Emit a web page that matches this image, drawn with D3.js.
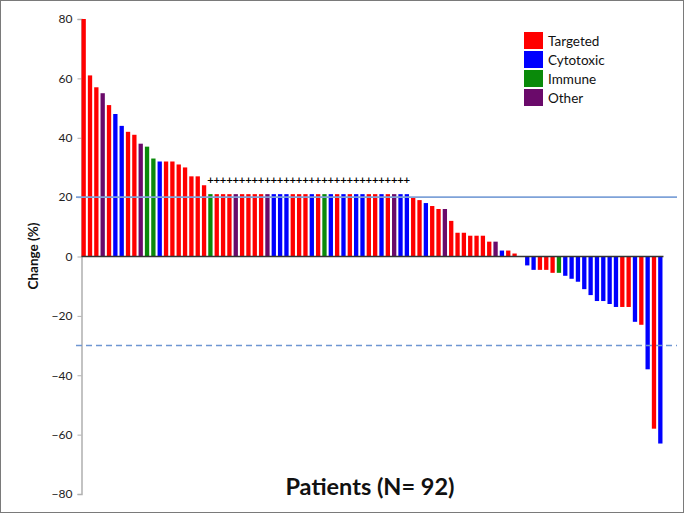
<!DOCTYPE html>
<html><head><meta charset="utf-8">
<script src="https://cdn.jsdelivr.net/npm/d3@7"></script>
<style>body{margin:0;background:#fff}svg{display:block}</style>
</head><body>
<svg id="c" width="684" height="513"></svg>
<script>
// Data
const patientValues = [80,61,57,55,51,48,44,42,41,38,37,33,32,32,32,31,30,27,27,24,
  21,21,21,21,21,21,21,21,21,21,21,21,21,21,21,21,21,21,21,21,21,21,21,21,21,21,21,21,21,21,21,21,
  20,19,18,17,16,16,12,8,8,7,7,7,5,5,2,2,1,0,
  -3,-4.5,-4.5,-4.5,-5.5,-5.5,-6.5,-7.5,-8.5,-11,-13,-15,-15,-16,-17,-17,-17,-22,-23,-38,-58,-63];
const patientTypes = ["T","T","T","O","T","C","C","T","T","O","I","I","C","T","T","T","T","T","T","T",
  "I","T","T","T","O","T","T","T","T","O","C","C","C","T","T","T","C","T","I","C","T","C","T","C","C","T","T","C","T","O","C","C",
  "T","T","C","T","T","O","T","T","T","T","T","T","T","O","C","T","T","T",
  "C","C","T","T","T","I","C","C","C","C","C","C","C","C","C","T","T","C","T","C","T","C"];
const newLesion = patientValues.map((v,i)=> i>=20 && i<=51);
const categories = ["Targeted","Cytotoxic","Immune","Other"];
const categoryCodes = ["T","C","I","O"];
const categoryColors = ["#ff0000","#0000ff","#0a8a0a","#6a0a6a"];
const yTicks = [-80,-60,-40,-20,0,20,40,60,80];
const thresholds = [20,-30];

const svg = d3.select("#c");
svg.append("rect").attr("x",0.5).attr("y",0.5).attr("width",683).attr("height",512)
  .attr("fill","#fff").attr("stroke","#7a7a7a").attr("stroke-width",1);

const y = d3.scaleLinear().domain([-80,80]).range([494,19]);
const x = d3.scaleBand().domain(d3.range(patientValues.length)).range([81.2,662.8]).paddingInner(0.32).paddingOuter(0.05);
const color = d3.scaleOrdinal().domain(categoryCodes).range(categoryColors);

// Y axis
const yAxis = d3.axisLeft(y).tickValues(yTicks).tickSize(4).tickPadding(5);
const ga = svg.append("g").attr("transform","translate(81.5,0)").call(yAxis);
ga.select(".domain").attr("stroke","#b0b0b0").attr("stroke-width",1.5);
ga.selectAll(".tick line").attr("stroke","#b0b0b0");
ga.selectAll(".tick text").attr("font-family","Lato, 'Open Sans', sans-serif").attr("font-size",12).attr("fill","#222");

// Bars
svg.append("g").selectAll("rect").data(patientValues).join("rect")
  .attr("x",(d,i)=>x(i)).attr("width",x.bandwidth())
  .attr("y",d=>y(Math.max(0,d))).attr("height",d=>Math.abs(y(d)-y(0)))
  .attr("fill",(d,i)=>color(patientTypes[i]));

// Zero line
svg.append("line").attr("x1",81.5).attr("x2",x(patientValues.length-1)+x.bandwidth()+1)
  .attr("y1",y(0)).attr("y2",y(0)).attr("stroke","#333").attr("stroke-width",1.5);

// Threshold lines
svg.append("line").attr("x1",76).attr("x2",677).attr("y1",y(thresholds[0])).attr("y2",y(thresholds[0]))
  .attr("stroke","#7ea2d8").attr("stroke-width",1.6);
svg.append("line").attr("x1",76).attr("x2",677).attr("y1",y(thresholds[1])).attr("y2",y(thresholds[1]))
  .attr("stroke","#6f96d2").attr("stroke-width",1.4).attr("stroke-dasharray","6,4");

// Plus marks
svg.append("g").selectAll("text").data(patientValues.map((v,i)=>i).filter(i=>newLesion[i])).join("text")
  .attr("x",i=>x(i)+x.bandwidth()/2).attr("y",183).attr("text-anchor","middle")
  .attr("font-family","DejaVu Sans, sans-serif").attr("font-weight","bold").attr("font-size",9).attr("fill","#000").text("+");

// Y label
svg.append("text").attr("transform","translate(38,256) rotate(-90)").attr("text-anchor","middle")
  .attr("font-family","Lato, 'Open Sans', sans-serif").attr("font-weight","bold").attr("font-size",13.5).attr("fill","#111")
  .text("Change (%)");

// X title
svg.append("text").attr("x",370).attr("y",495).attr("text-anchor","middle")
  .attr("font-family","Lato, 'Open Sans', sans-serif").attr("font-weight","bold").attr("font-size",23.5).attr("fill","#111")
  .text("Patients (N= 92)");

// Legend
const lg = svg.append("g").selectAll("g").data(categories).join("g")
  .attr("transform",(d,i)=>`translate(524,${32+i*19})`);
lg.append("rect").attr("width",19).attr("height",17).attr("fill",(d,i)=>categoryColors[i]);
lg.append("text").attr("x",24).attr("y",13.5).attr("font-family","Lato, 'Open Sans', sans-serif")
  .attr("font-size",13.5).attr("fill","#111").text(d=>d);
</script>
</body></html>
